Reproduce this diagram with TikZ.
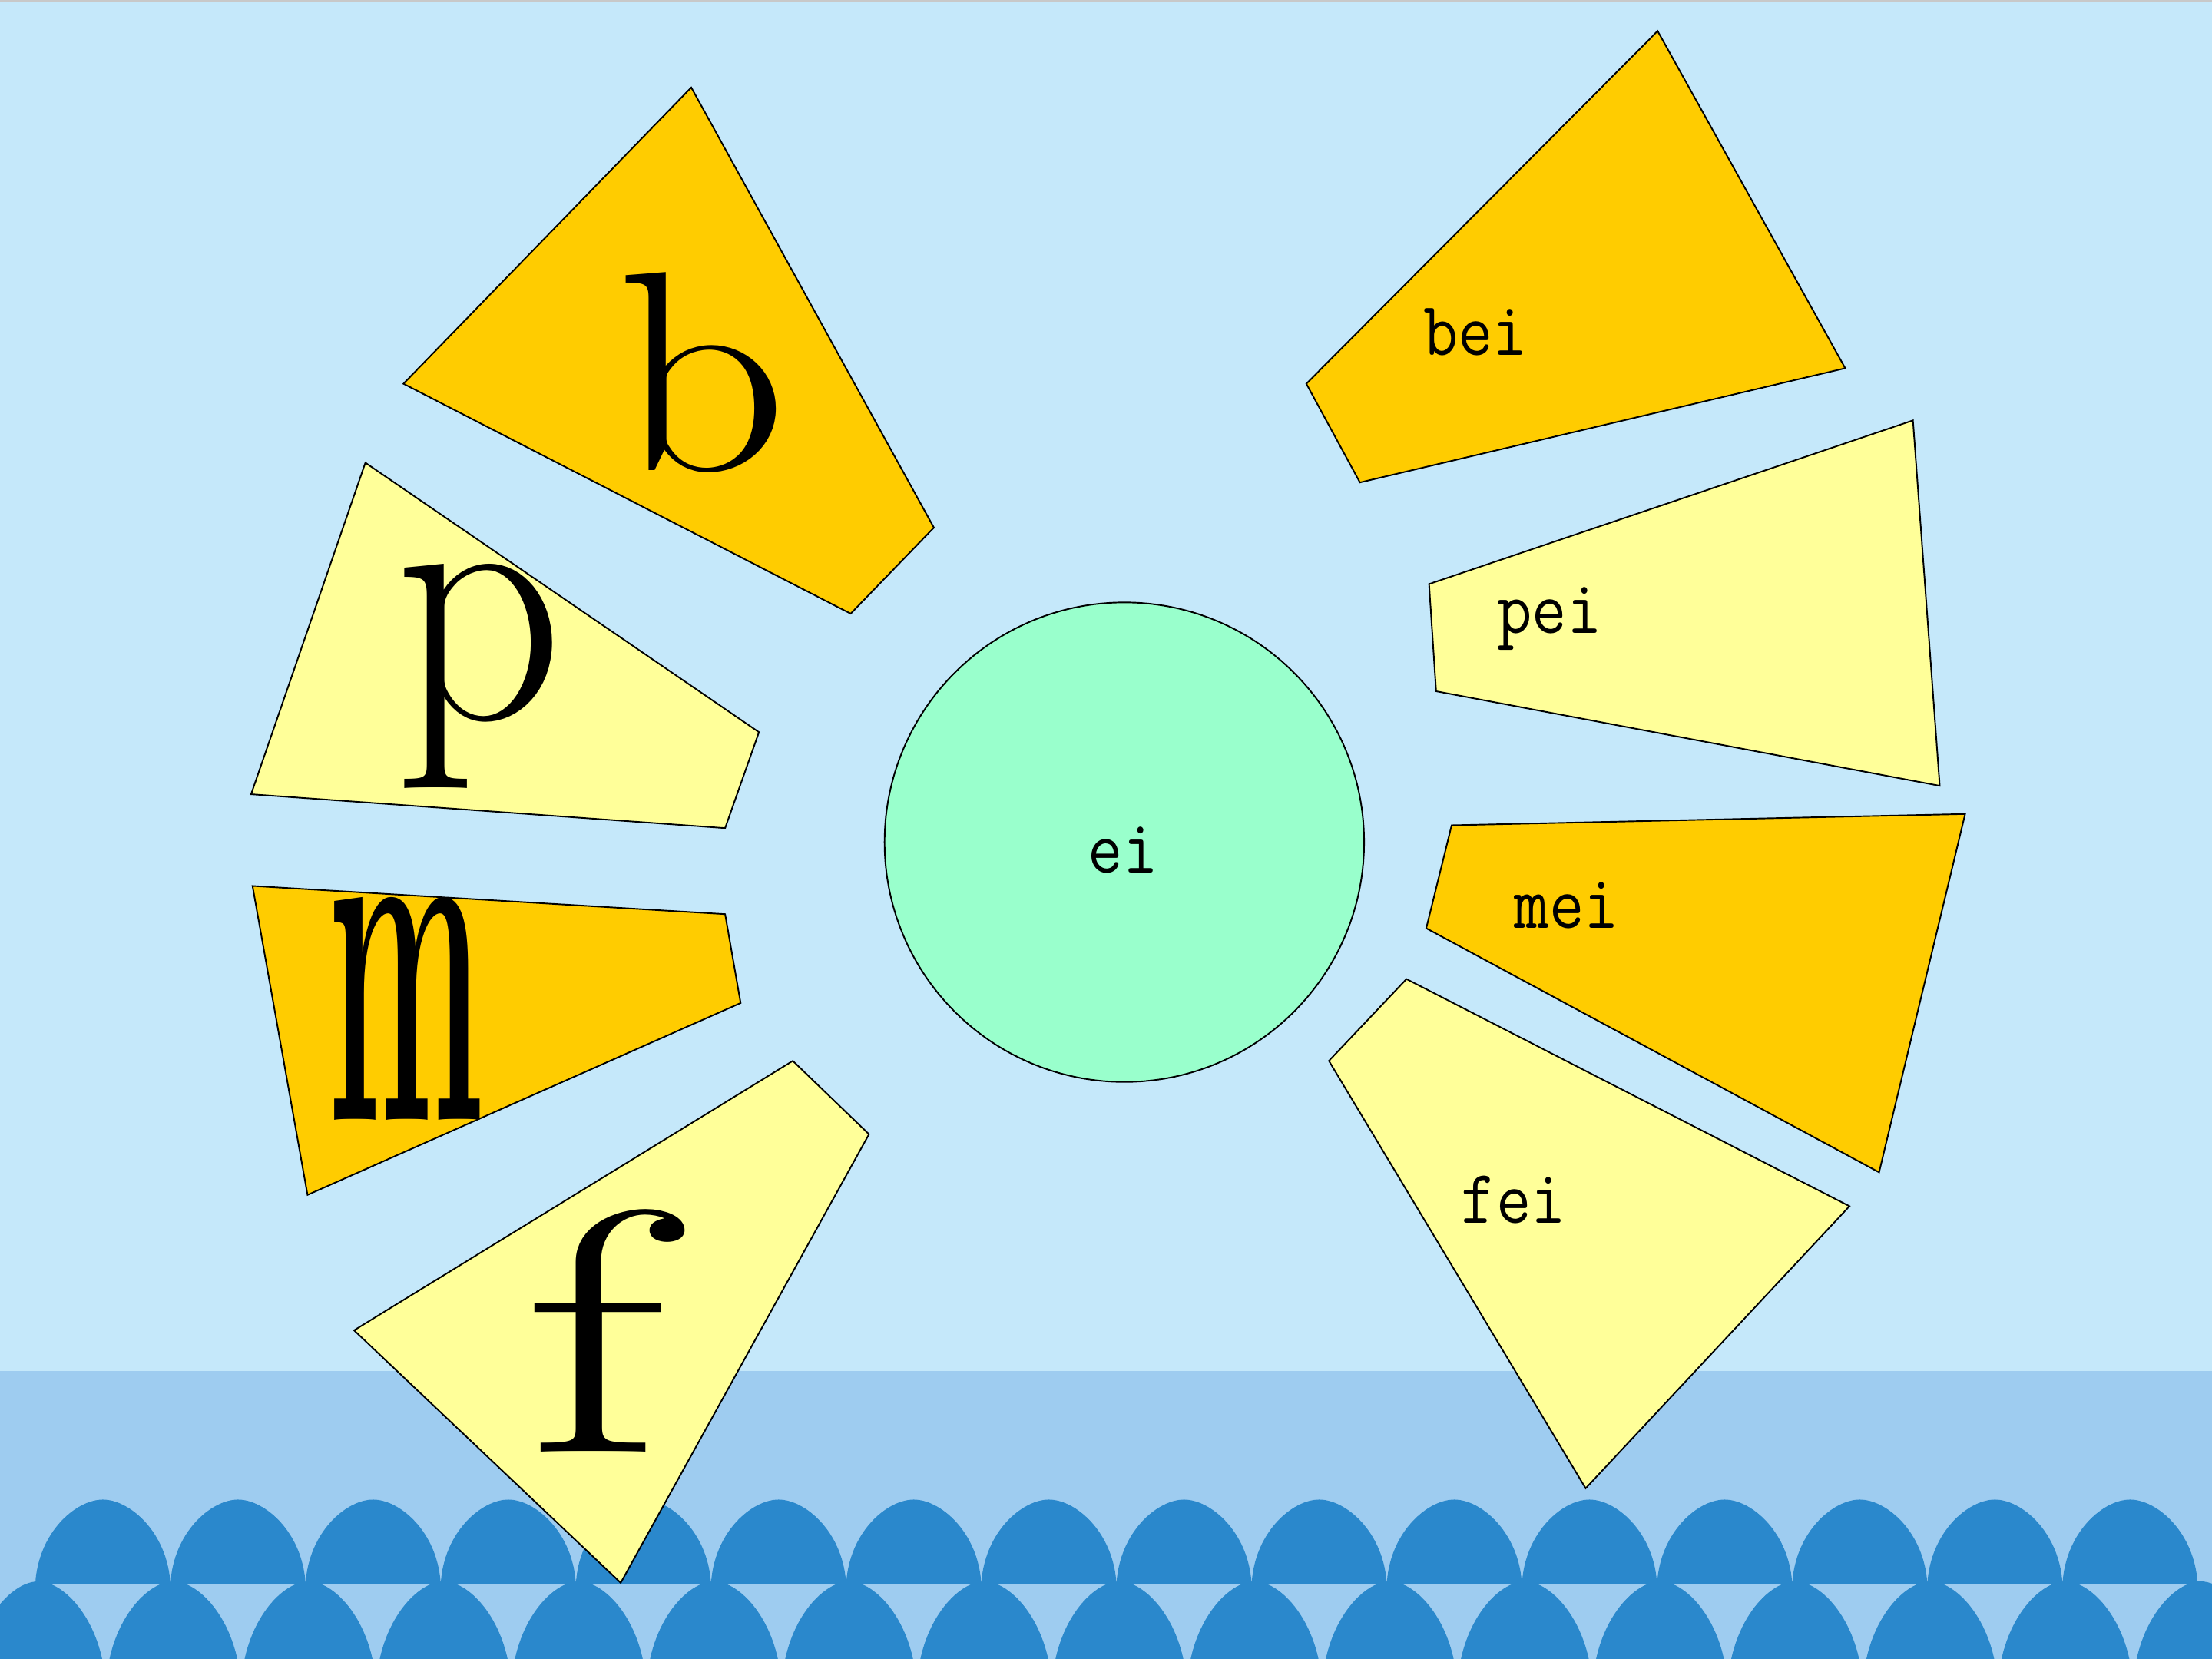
\documentclass[tikz,border=0pt]{standalone}
\usepackage{fontspec}
\definecolor{sky}{HTML}{C5E8FA}
\definecolor{band}{HTML}{9ECCF0}
\definecolor{waveblue}{HTML}{2A88CC}
\definecolor{darkq}{HTML}{FFCC00}
\definecolor{lightq}{HTML}{FFFF99}
\definecolor{mint}{HTML}{99FFCC}
\definecolor{topline}{HTML}{C8C8C8}
\begin{document}
\begin{tikzpicture}[x=0.02cm,y=-0.02cm,
  quad/.style={draw=black, line width=0.6pt, line join=miter},
  darkquad/.style={quad, fill=darkq},
  lightquad/.style={quad, fill=lightq},
  wave/.style={fill=waveblue},
  lbl/.style={inner sep=0pt, anchor=base, font=\ttfamily\fontsize{27.3}{30}\selectfont},
  big/.style={inner sep=0pt, font=\fontsize{100}{100}\selectfont}]
\useasboundingbox (0,0) rectangle (1568,1176);
% background
\fill[sky] (0,0) rectangle (1568,1176);
\fill[topline] (0,0) rectangle (1568,1.6);
\fill[band] (0,972) rectangle (1568,1176);
% waves, upper row
\foreach \k in {0,...,15}{
  \pgfmathsetmacro\xa{25+95.8*\k}
  \fill[wave] (\xa,1123) .. controls (\xa+2,1086) and (\xa+29,1063) .. (\xa+47.9,1063)
    .. controls (\xa+66.8,1063) and (\xa+93.8,1086) .. (\xa+95.8,1123) -- cycle;
}
% waves, lower row
\foreach \k in {0,...,17}{
  \pgfmathsetmacro\xa{-20.8+95.8*\k}
  \fill[wave] (\xa,1196) .. controls (\xa+2,1150) and (\xa+29,1121) .. (\xa+47.9,1121)
    .. controls (\xa+66.8,1121) and (\xa+93.8,1150) .. (\xa+95.8,1196) -- cycle;
}
% left petals
\draw[darkquad] (490,62) -- (662,374) -- (603,435) -- (286,272) -- cycle;
\draw[lightquad] (259,328) -- (538,519) -- (514,587) -- (178,563) -- cycle;
\draw[darkquad] (179,628) -- (514,648) -- (525,711) -- (218,847) -- cycle;
\draw[lightquad] (562,752) -- (616,804) -- (440,1122) -- (251,943) -- cycle;
% right petals
\draw[darkquad] (1175,22) -- (1308,261) -- (964,342) -- (926,272) -- cycle;
\draw[lightquad] (1013,414) -- (1356,298) -- (1375,557) -- (1018,490) -- cycle;
\draw[darkquad] (1029,585) -- (1393,577) -- (1332,831) -- (1011,658) -- cycle;
\draw[lightquad] (997,694) -- (1311,855) -- (1124,1055) -- (942,752) -- cycle;
% centre
\node[circle, draw=black, line width=0.6pt, fill=mint, minimum size=6.8cm, inner sep=0pt] (sun) at (797,597) {};
% big initials
\node[big] (b) at (497.5,264) {\resizebox*{2.44cm}{2.84cm}{b}};
\node[big] (p) at (339.5,479.5) {\resizebox*{2.4cm}{3.18cm}{p}};
\node[big] (m) at (287.5,715) {\resizebox*{2.22cm}{3.16cm}{\bfseries m}};
\node[big] (f) at (421.5,943) {\resizebox*{2.02cm}{3.44cm}{f}};
% labels
\node[lbl] (ei) at (796,619) {\scalebox{1}[1.13]{ei}};
\node[lbl] (bei) at (1046,252) {\scalebox{1}[1.13]{bei}};
\node[lbl] (pei) at (1098.5,449) {\scalebox{1}[1.13]{pei}};
\node[lbl] (mei) at (1110.5,658) {\scalebox{1}[1.13]{mei}};
\node[lbl] (fei) at (1073,867) {\scalebox{1}[1.13]{fei}};
\end{tikzpicture}
\end{document}
